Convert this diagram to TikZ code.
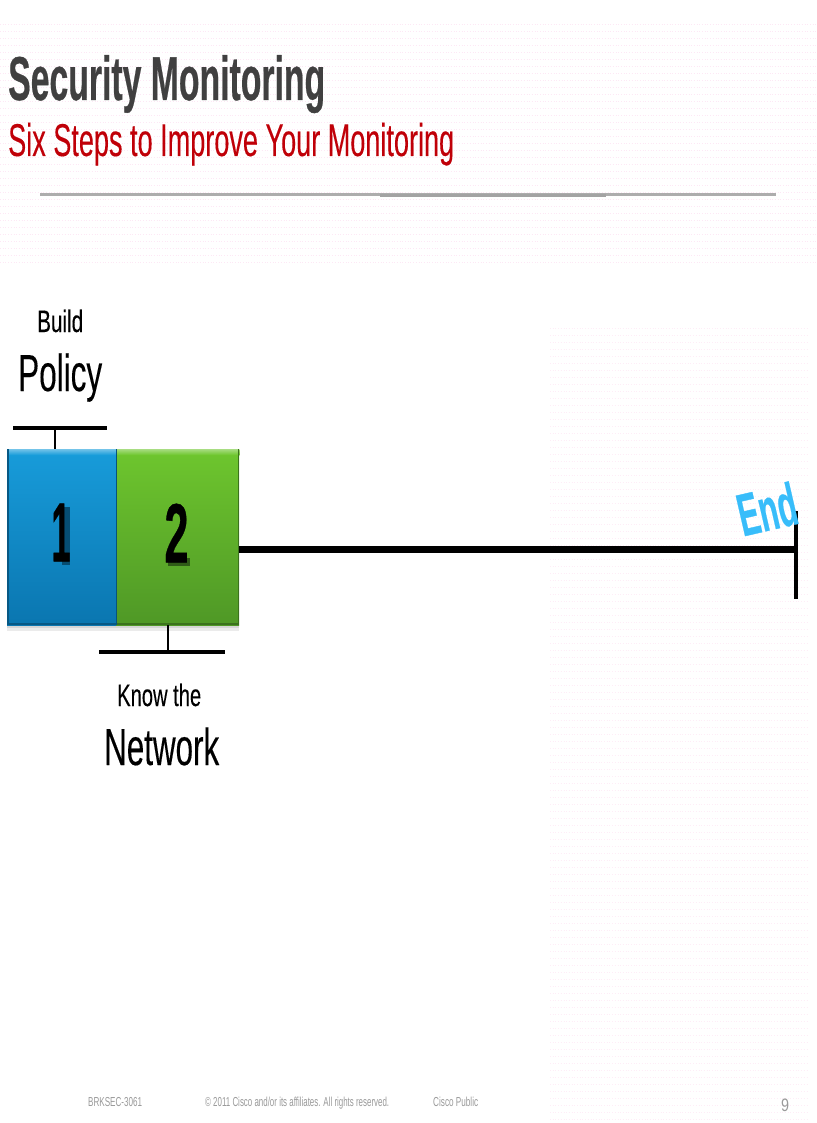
\documentclass[tikz,border=0pt]{standalone}
\usepackage{fontspec}
\usepackage{graphicx}
\setmainfont{Liberation Sans}
\newfontfamily\heavyfont[FakeBold=0.6]{Liberation Sans Bold}
\newfontfamily\softfont[FakeBold=0.25]{Liberation Sans}
\definecolor{titlegrey}{HTML}{404040}
\definecolor{subred}{HTML}{C00008}
\definecolor{endblue}{HTML}{38BDFA}
\definecolor{footgrey}{HTML}{9A9A9A}
\definecolor{blockblueT}{HTML}{189CDA}
\definecolor{blockblueB}{HTML}{0A76B0}
\definecolor{blockgreenT}{HTML}{6EC62E}
\definecolor{blockgreenB}{HTML}{4F9826}
\tikzset{
 x=1pt,y=-1pt,
 lbl/.style={inner sep=0pt,anchor=base west},
 blockbox/.style={draw=none,inner sep=0pt,minimum height=176pt,anchor=north west},
 stem/.style={line width=2pt,black},
 mainline/.style={line width=6.4pt,black},
 foot/.style={lbl,text=footgrey},
 numeral/.style={inner sep=0pt,anchor=center,text=black},
}
\newcommand{\sq}[3]{\resizebox{#1pt}{\height}{\fontsize{#2}{#2}\selectfont #3}}
\begin{document}
\begin{tikzpicture}
\useasboundingbox (0,0) rectangle (816,1123);
\fill[white] (0,0) rectangle (816,1123);
% faint dither
\foreach \yy in {24,31,...,262}{\draw[magenta!9,line width=.7pt,dotted] (0,\yy) -- (816,\yy);}
\foreach \yy in {328,335,...,1120}{\draw[magenta!7,line width=.7pt,dotted] (550,\yy) -- (808,\yy);}
% title
\node[lbl] (title) at (8,100) {\sq{317}{62}{\textcolor{titlegrey}{\heavyfont Security Monitoring}}};
\node[lbl] (subtitle) at (8,156) {\sq{446}{46}{\textcolor{subred}{\softfont Six Steps to Improve Your Monitoring}}};
\coordinate (ruleL) at (40,195);
\coordinate (ruleR) at (776,195);
\coordinate (ruleA) at (380,195.5);
\coordinate (ruleB) at (606,195.5);
\draw[line width=3pt,color=black!32] (ruleL) -- (ruleR);
\draw[line width=3.6pt,color=black!36] (ruleA) -- (ruleB);
% shadow
\fill[black!8] (7,625) rectangle (239,631);
\fill[black!16] (7,625) rectangle (239,628);
% blocks
\node[blockbox,minimum width=109pt,top color=blockblueT,bottom color=blockblueB] (one) at (7,449) {};
\node[blockbox,minimum width=123pt,top color=blockgreenT,bottom color=blockgreenB] (two) at (116,449) {};
% bevels
\fill[top color=blockblueT!60!white,bottom color=blockblueT] (one.north west) rectangle ([yshift=-6pt]one.north east);
\fill[top color=blockgreenT!60!white,bottom color=blockgreenT] (two.north west) rectangle ([yshift=-6pt]two.north east);
\fill[blockblueB!75!black] ([yshift=2pt]one.south west) rectangle (one.south east);
\fill[blockgreenB!75!black] ([yshift=2pt]two.south west) rectangle (two.south east);
\fill[blockblueB!75!black] (one.north west) rectangle ([xshift=1.5pt]one.south west);
\fill[blockgreenB!75!black] ([xshift=-1.5pt]two.north east) rectangle (two.south east);
\draw[blockblueB!70!black,line width=1pt] (one.north east) -- (one.south east);
% numeral shadows
\fill[blockblueB!65!black] (62,507) rectangle (70,565);
\fill[blockgreenB!60!black] (168,558) rectangle (190,566);
\node[numeral] (numone) at (61,532.5) {\sq{19}{84}{\heavyfont 1}};
\node[numeral] (numtwo) at (176.5,533) {\sq{24}{84}{\heavyfont 2}};
% brackets
\coordinate (polL) at (13.3,428);
\coordinate (polR) at (106.7,428);
\coordinate (polM) at (55,428);
\coordinate (oneTop) at (55,449);
\draw[line width=3.6pt] (polL) -- (polR);
\draw[stem] (polM) -- (oneTop);
\coordinate (netL) at (99,652);
\coordinate (netR) at (225,652);
\coordinate (netM) at (168,652);
\coordinate (twoBot) at (168,625);
\draw[line width=4.6pt] (netL) -- (netR);
\draw[stem] (twoBot) -- (netM);
% labels
\node[lbl] (build) at (37,332) {\sq{46}{31}{\softfont Build}};
\node[lbl] (policy) at (18,391) {\sq{84}{52}{\softfont Policy}};
\node[lbl] (know) at (117,706) {\sq{84}{31}{\softfont Know the}};
\node[lbl] (network) at (104,765) {\sq{115}{52}{\softfont Network}};
% main line
\coordinate (endJ) at (795.7,549.3);
\coordinate (endT) at (795.7,511);
\coordinate (endB) at (795.7,599);
\draw[mainline] (two.east |- endJ) -- (endJ);
\draw[line width=4pt,black] (endT) -- (endB);
\node[inner sep=0pt,rotate=13,text=endblue] (endlabel) at (767,509) {\sq{59}{60}{\heavyfont End}};
% footer
\node[foot] (f1) at (88,1106) {\sq{54}{13}{BRKSEC-3061}};
\node[foot] (f2) at (205,1106) {\sq{184}{13}{© 2011 Cisco and/or its affiliates. All rights reserved.}};
\node[foot] (f3) at (433,1106) {\sq{45}{13}{Cisco Public}};
\node[foot] (f4) at (781,1111) {\sq{8}{18}{9}};
\end{tikzpicture}
\end{document}
